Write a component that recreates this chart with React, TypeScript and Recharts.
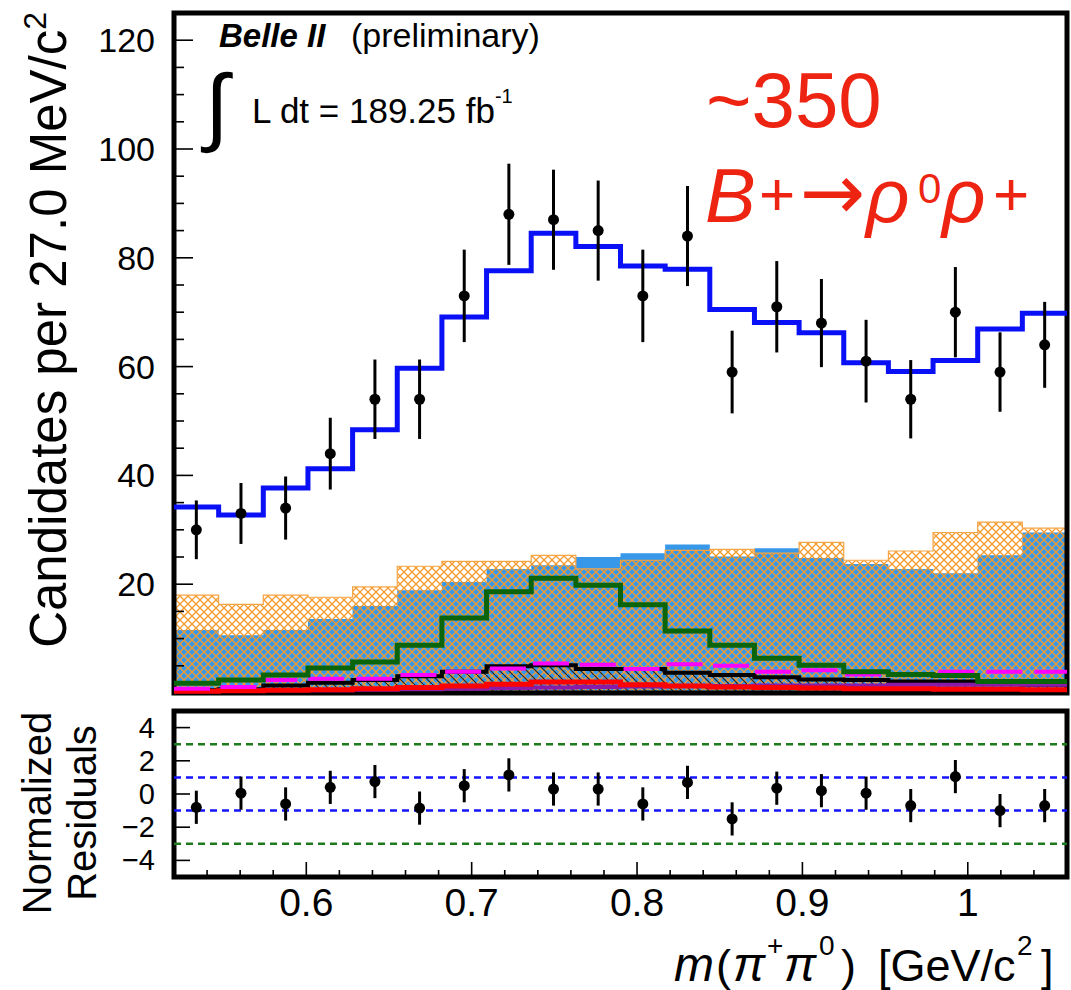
import { Area, ComposedChart, ErrorBar, Line, ReferenceArea, ReferenceLine, Scatter, XAxis, YAxis } from 'recharts'

// m(pi+ pi0) binning: 20 bins of 27 MeV
const binEdges = [0.52, 0.547, 0.574, 0.601, 0.628, 0.655, 0.682, 0.709, 0.736, 0.763, 0.79, 0.817, 0.844, 0.871, 0.898, 0.925, 0.952, 0.979, 1.006, 1.033, 1.06]
const binCenters = [0.5335, 0.5605, 0.5875, 0.6145, 0.6415, 0.6685, 0.6955, 0.7225, 0.7495, 0.7765, 0.8035, 0.8305, 0.8575, 0.8845, 0.9115, 0.9385, 0.9655, 0.9925, 1.0195, 1.0465]

// data
const dataCounts = [30, 33, 34, 44, 54, 54, 73, 88, 87, 85, 73, 84, 59, 71, 68, 61, 54, 70, 59, 64]
const dataErrors = [5.4, 5.6, 5.8, 6.6, 7.3, 7.3, 8.5, 9.3, 9.2, 9.2, 8.5, 9.2, 7.6, 8.4, 8.1, 7.6, 7.2, 8.3, 7.3, 7.9]

// fit components
const totalFit = [34.2, 32.7, 37.7, 41.2, 48.4, 59.7, 69.1, 77.6, 84.5, 82.1, 78.5, 77.9, 70.5, 68.1, 66.2, 60.7, 59.1, 61.1, 66.9, 69.8]
const qqbarBkg = [11.6, 10.6, 11.6, 13.6, 16.0, 18.9, 20.4, 22.8, 23.5, 25.0, 25.7, 27.3, 25.1, 26.6, 24.8, 23.7, 22.8, 22.0, 25.3, 29.5]
const continuumBkg = [18.0, 16.3, 18.0, 17.6, 19.5, 23.3, 24.2, 24.2, 25.3, 22.8, 24.4, 26.2, 26.4, 25.7, 27.7, 24.4, 26.1, 29.5, 31.4, 30.3]
const signalComp = [1.8, 2.4, 3.3, 4.6, 5.7, 8.8, 13.8, 18.6, 21.1, 19.8, 16.2, 11.4, 8.8, 6.4, 5.1, 3.9, 3.4, 3.2, 2.1, 2.1]
const magentaComp = [0.8, 1.1, 2.4, 2.6, 2.6, 3.3, 3.9, 4.5, 5.4, 5.2, 4.4, 5.3, 5.0, 3.9, 4.2, 3.4, 3.4, 3.9, 3.9, 3.9]
const blackComp = [0.5, 0.7, 1.4, 1.9, 2.4, 3.1, 3.9, 4.9, 5.1, 4.4, 4.4, 3.7, 3.3, 2.9, 2.5, 2.4, 2.1, 2.1, 1.8, 1.5]
const purpleComp = [0.3, 0.4, 0.5, 0.5, 0.6, 0.7, 0.8, 0.9, 1.0, 1.1, 1.2, 1.3, 1.3, 1.4, 1.4, 1.4, 1.5, 1.5, 1.5, 1.5]
const redComp = [0.3, 0.4, 0.5, 0.6, 0.8, 1.0, 1.3, 1.6, 2.0, 2.0, 1.5, 1.3, 1.1, 1.0, 0.9, 0.8, 0.8, 0.7, 0.7, 0.6]

// normalized residuals (data - fit) / sigma
const residuals = [-0.8, 0.05, -0.6, 0.4, 0.75, -0.85, 0.5, 1.15, 0.3, 0.3, -0.6, 0.7, -1.5, 0.35, 0.2, 0.05, -0.7, 1.05, -1.0, -0.7]
const residualErrors = [1, 1, 1, 1, 1, 1, 1, 1, 1, 1, 1, 1, 1, 1, 1, 1, 1, 1, 1, 1]

// ticks
const countTicks = [5, 10, 15, 20, 25, 30, 35, 40, 45, 50, 55, 60, 65, 70, 75, 80, 85, 90, 95, 100, 105, 110, 115, 120]
const residualTicks = [-4, -2, 0, 2, 4]
const massTicks = [0.54, 0.56, 0.58, 0.6, 0.62, 0.64, 0.66, 0.68, 0.7, 0.72, 0.74, 0.76, 0.78, 0.8, 0.82, 0.84, 0.86, 0.88, 0.9, 0.92, 0.94, 0.96, 0.98, 1.0, 1.02, 1.04]
const massMajor = [0.6, 0.7, 0.8, 0.9, 1.0]
const massLabels = ['0.6', '0.7', '0.8', '0.9', '1']

const FONT = '"Liberation Sans", Arial, Helvetica, sans-serif'
const RED = '#ee2412'

// histogram outlines: one row per bin edge, last bin repeated at the upper edge
const stepRows = binEdges.map((x, i) => {
  const b = Math.min(i, binCenters.length - 1)
  return {
    x,
    total: totalFit[b],
    qqbar: qqbarBkg[b],
    continuum: continuumBkg[b],
    signal: signalComp[b],
    magenta: magentaComp[b],
    black: blackComp[b],
    purple: purpleComp[b],
    red: redComp[b],
  }
})
const dataRows = binCenters.map((x, i) => ({ x, n: dataCounts[i], err: dataErrors[i] }))
const residualRows = binCenters.map((x, i) => ({ x, r: residuals[i], err: residualErrors[i] }))

function CountTick(props: any) {
  const { x, y, payload } = props
  const major = payload.value % 20 === 0
  return (
    <g>
      <line x1={x} x2={x + (major ? 19 : 10)} y1={y} y2={y} stroke="#000" strokeWidth={1.6} />
      {major && (
        <text x={x - 19} y={y} dy={12} textAnchor="end" fontSize={34} fontFamily={FONT} fill="#000">
          {payload.value}
        </text>
      )}
    </g>
  )
}

function ResidualTick(props: any) {
  const { x, y, payload } = props
  const v = payload.value
  return (
    <g>
      <line x1={x} x2={x + 16} y1={y} y2={y} stroke="#000" strokeWidth={1.6} />
      <text x={x - 19} y={y} dy={10} textAnchor="end" fontSize={29} fontFamily={FONT} fill="#000">
        {v < 0 ? `\u2212${-v}` : v}
      </text>
    </g>
  )
}

function MassTick(props: any) {
  const { x, y, payload } = props
  const idx = massMajor.findIndex((t) => Math.abs(t - payload.value) < 1e-6)
  const major = idx >= 0
  return (
    <g>
      <line x1={x} x2={x} y1={y} y2={y - (major ? 15 : 7)} stroke="#000" strokeWidth={1.6} />
      {major && (
        <text x={x} y={y + 39} textAnchor="middle" fontSize={39} fontFamily={FONT} fill="#000">
          {massLabels[idx]}
        </text>
      )}
    </g>
  )
}

const dot = (p: any) => <circle cx={p.cx} cy={p.cy} r={5.5} fill="#000" />

function FitPanel() {
  return (
    <ComposedChart width={1071} height={700} data={stepRows} margin={{ top: 13, right: 4, bottom: 7, left: 114 }}>
      <defs>
        <pattern id="xhatch" width="8" height="8" patternUnits="userSpaceOnUse">
          <path d="M0,0 L8,8 M8,0 L0,8" stroke="#f39a2c" strokeWidth={1.3} />
        </pattern>
        <pattern id="diag" width="9" height="9" patternUnits="userSpaceOnUse">
          <path d="M0,0 L9,9" stroke="#222" strokeWidth={1.2} />
        </pattern>
      </defs>
      <XAxis type="number" dataKey="x" domain={[0.52, 1.06]} hide allowDataOverflow />
      <Area type="stepAfter" dataKey="qqbar" fill="#3797e9" fillOpacity={1} stroke="none" isAnimationActive={false} />
      <Area type="stepAfter" dataKey="continuum" fill="url(#xhatch)" fillOpacity={1} stroke="#f6a546" strokeWidth={1.2} isAnimationActive={false} />
      <Area type="stepAfter" dataKey="black" fill="url(#diag)" fillOpacity={1} stroke="#000" strokeWidth={4} isAnimationActive={false} />
      <Line type="stepAfter" dataKey="purple" stroke="#8a1aa8" strokeWidth={4} dot={false} isAnimationActive={false} />
      <Line type="stepAfter" dataKey="red" stroke="#ff0000" strokeWidth={5} dot={false} isAnimationActive={false} />
      <Line type="stepAfter" dataKey="magenta" stroke="#ff00ff" strokeWidth={4} strokeDasharray="36 12" dot={false} isAnimationActive={false} />
      <Line type="stepAfter" dataKey="signal" stroke="#0a650a" strokeWidth={5} dot={false} isAnimationActive={false} />
      <Line type="stepAfter" dataKey="total" stroke="#0a10f5" strokeWidth={5} dot={false} isAnimationActive={false} />
      <Scatter data={dataRows} dataKey="n" shape={dot} isAnimationActive={false}>
        <ErrorBar dataKey="err" direction="y" width={0} stroke="#000" strokeWidth={3} />
      </Scatter>
      <YAxis
        type="number"
        domain={[0, 125]}
        ticks={countTicks}
        interval={0}
        width={60}
        axisLine={false}
        tickLine={false}
        tickSize={0}
        tickMargin={0}
        tick={(p: any) => <CountTick {...p} />}
      />
      <ReferenceArea x1={0.52} x2={1.06} y1={0} y2={125} fill="none" stroke="#000" strokeWidth={5} ifOverflow="visible" />
    </ComposedChart>
  )
}

function ResidualPanel() {
  return (
    <ComposedChart width={1071} height={290} margin={{ top: 11, right: 4, bottom: 63, left: 114 }}>
      <XAxis
        type="number"
        dataKey="x"
        domain={[0.52, 1.06]}
        ticks={massTicks}
        interval={0}
        height={50}
        axisLine={false}
        tickLine={false}
        tickSize={0}
        tickMargin={0}
        tick={(p: any) => <MassTick {...p} />}
        allowDataOverflow
      />
      <YAxis
        type="number"
        domain={[-5, 5]}
        ticks={residualTicks}
        interval={0}
        width={60}
        axisLine={false}
        tickLine={false}
        tickSize={0}
        tickMargin={0}
        tick={(p: any) => <ResidualTick {...p} />}
      />
      <ReferenceLine y={3} stroke="#1d7a1d" strokeWidth={2.5} strokeDasharray="7 5" />
      <ReferenceLine y={-3} stroke="#1d7a1d" strokeWidth={2.5} strokeDasharray="7 5" />
      <ReferenceLine y={1} stroke="#1414ff" strokeWidth={2.5} strokeDasharray="7 5" />
      <ReferenceLine y={-1} stroke="#1414ff" strokeWidth={2.5} strokeDasharray="7 5" />
      <Scatter data={residualRows} dataKey="r" shape={dot} isAnimationActive={false}>
        <ErrorBar dataKey="err" direction="y" width={0} stroke="#000" strokeWidth={3} />
      </Scatter>
      <ReferenceArea x1={0.52} x2={1.06} y1={-5} y2={5} fill="none" stroke="#000" strokeWidth={5} ifOverflow="visible" />
    </ComposedChart>
  )
}

function Labels() {
  return (
    <svg width={1071} height={990} style={{ position: 'absolute', left: 0, top: 0, pointerEvents: 'none' }} fontFamily={FONT}>
      <text transform="translate(66,12) rotate(-90)" textAnchor="end" fontSize={51} fill="#000">
        Candidates per 27.0 MeV/c<tspan dy={-20} fontSize={32}>2</tspan>
      </text>
      <text transform="translate(51,813) rotate(-90)" textAnchor="middle" fontSize={40} fill="#000">Normalized</text>
      <text transform="translate(96,813) rotate(-90)" textAnchor="middle" fontSize={40} fill="#000">Residuals</text>

      {/* x-axis title, pieces placed like TLatex */}
      <text y={981} fontSize={45} fill="#000">
        <tspan x={674} fontStyle="italic" fontSize={48}>m</tspan>
        <tspan x={716}>(</tspan>
        <tspan x={733} fontStyle="italic" fontSize={48}>π</tspan>
        <tspan x={767} y={955} fontSize={28}>+</tspan>
        <tspan x={784} y={981} fontStyle="italic" fontSize={48}>π</tspan>
        <tspan x={819} y={955} fontSize={28}>0</tspan>
        <tspan x={841} y={981}>)</tspan>
        <tspan x={878}>[GeV/c</tspan>
        <tspan x={1017} y={955} fontSize={28}>2</tspan>
        <tspan x={1041} y={981}>]</tspan>
      </text>

      <text x={219} y={47} fontSize={33} fontWeight="bold" fontStyle="italic" fill="#000">Belle II</text>
      <text x={351} y={47} fontSize={34} fill="#000">(preliminary)</text>
      <text x={205} y={135} fontSize={86} fill="#000">∫</text>
      <text x={252} y={123} fontSize={35} fill="#000">
        L dt = 189.25 fb<tspan dy={-20} fontSize={20}>-1</tspan>
      </text>

      <text x={706} y={127} fontSize={78} fill={RED}>~350</text>
      <text x={705} y={222} fontSize={76} fontStyle="italic" fill={RED}>B</text>
      <text x={759} y={215} fontSize={62} fill={RED}>+</text>
      <text x={800} y={219} fontSize={78} fontFamily='"DejaVu Sans", sans-serif' fill={RED}>→</text>
      <text x={866} y={222} fontSize={76} fontStyle="italic" fill={RED}>ρ</text>
      <text x={918} y={203} fontSize={42} fill={RED}>0</text>
      <text x={942} y={222} fontSize={76} fontStyle="italic" fill={RED}>ρ</text>
      <text x={993} y={215} fontSize={62} fill={RED}>+</text>
    </svg>
  )
}

export default function App() {
  return (
    <div style={{ position: 'absolute', left: 0, top: 0, width: 1071, height: 990, background: '#fff', fontFamily: FONT }}>
      <div style={{ position: 'absolute', left: 0, top: 0 }}>
        <FitPanel />
      </div>
      <div style={{ position: 'absolute', left: 0, top: 700 }}>
        <ResidualPanel />
      </div>
      <Labels />
    </div>
  )
}
